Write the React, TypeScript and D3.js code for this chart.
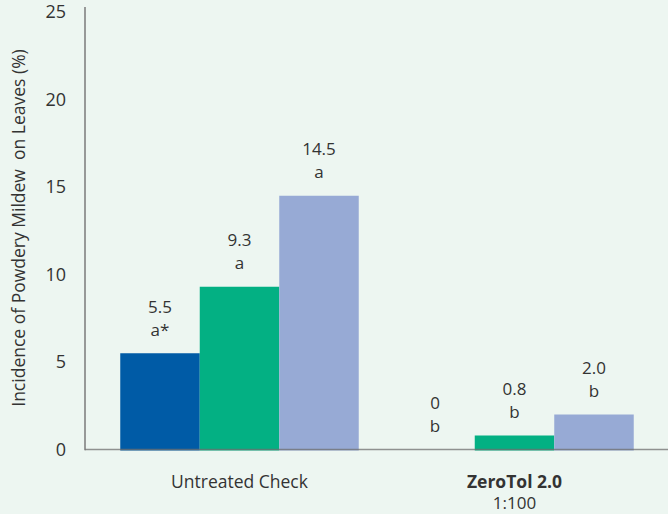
import React from "react";
import * as d3 from "d3";

const groups = ["Untreated Check", "ZeroTol 2.0"];
const groupSub = ["", "1:100"];
const series = ["s1", "s2", "s3"];
const colors = ["#005ba6", "#03b083", "#97aad5"];
const values = [
  [5.5, 9.3, 14.5],
  [0, 0.8, 2.0],
];
const letters = [
  ["a*", "a", "a"],
  ["b", "b", "b"],
];
const valueLabels = [
  ["5.5", "9.3", "14.5"],
  ["0", "0.8", "2.0"],
];
const yTicks = [0, 5, 10, 15, 20, 25];
const yTitle = "Incidence of Powdery Mildew  on Leaves (%)";

const W = 668;
const H = 514;
const FONT = "'Open Sans', 'Noto Sans', sans-serif";

export default function App() {
  const y = d3.scaleLinear().domain([0, 25]).range([449.5, 12]);
  const x0 = d3.scaleBand<string>().domain(groups).range([102, 652]).paddingInner(0).paddingOuter(0);
  const x1 = d3
    .scaleBand<string>()
    .domain(series)
    .range([0, x0.bandwidth()])
    .paddingInner(0)
    .paddingOuter(0.2296);

  return (
    <svg
      width={W}
      height={H}
      style={{ position: "fixed", left: 0, top: 0, background: "#edf6f1" }}
      fontFamily={FONT}
    >
      <rect x={0} y={0} width={W} height={H} fill="#edf6f1" />
      {groups.map((g, gi) => (
        <g key={g} transform={`translate(${x0(g)},0)`}>
          {series.map((s, si) => {
            const v = values[gi][si];
            const top = y(v);
            const bx = x1(s)!;
            const cx = bx + x1.bandwidth() / 2;
            return (
              <g key={s}>
                {v > 0 && (
                  <rect x={bx} y={top} width={x1.bandwidth()} height={y(0) - top + 1} fill={colors[si]} />
                )}
                <text x={cx} y={top - 47} textAnchor="middle" dominantBaseline="central" fontSize={17} fill="#333">
                  {valueLabels[gi][si]}
                </text>
                <text x={cx} y={top - 24} textAnchor="middle" dominantBaseline="central" fontSize={17} fill="#333">
                  {letters[gi][si]}
                </text>
              </g>
            );
          })}
        </g>
      ))}
      {/* axes */}
      <line x1={85} x2={W} y1={y(0)} y2={y(0)} stroke="#6f6f6f" strokeOpacity={0.75} strokeWidth={1.5} />
      <line x1={85} x2={85} y1={7} y2={y(0) + 0.75} stroke="#7a7a7a" strokeWidth={1.5} />
      {yTicks.map((t) => (
        <text
          key={t}
          x={66}
          y={y(t) - 1}
          textAnchor="end"
          dominantBaseline="central"
          fontSize={18}
          fill="#333"
        >
          {t}
        </text>
      ))}
      <text
        transform={`translate(18,228) rotate(-90)`}
        textAnchor="middle"
        dominantBaseline="central"
        fontSize={17.5}
        fill="#333"
        style={{ whiteSpace: "pre" }}
      >
        {yTitle}
      </text>
      {groups.map((g, gi) => {
        const cx = x0(g)! + x0.bandwidth() / 2;
        return (
          <g key={g}>
            <text
              x={cx}
              y={480.5}
              textAnchor="middle"
              dominantBaseline="central"
              fontSize={17.5}
              fontWeight={gi === 1 ? 700 : 400}
              fill="#333"
            >
              {g}
            </text>
            {groupSub[gi] && (
              <text x={cx} y={502.5} textAnchor="middle" dominantBaseline="central" fontSize={17} fill="#333">
                {groupSub[gi]}
              </text>
            )}
          </g>
        );
      })}
    </svg>
  );
}
